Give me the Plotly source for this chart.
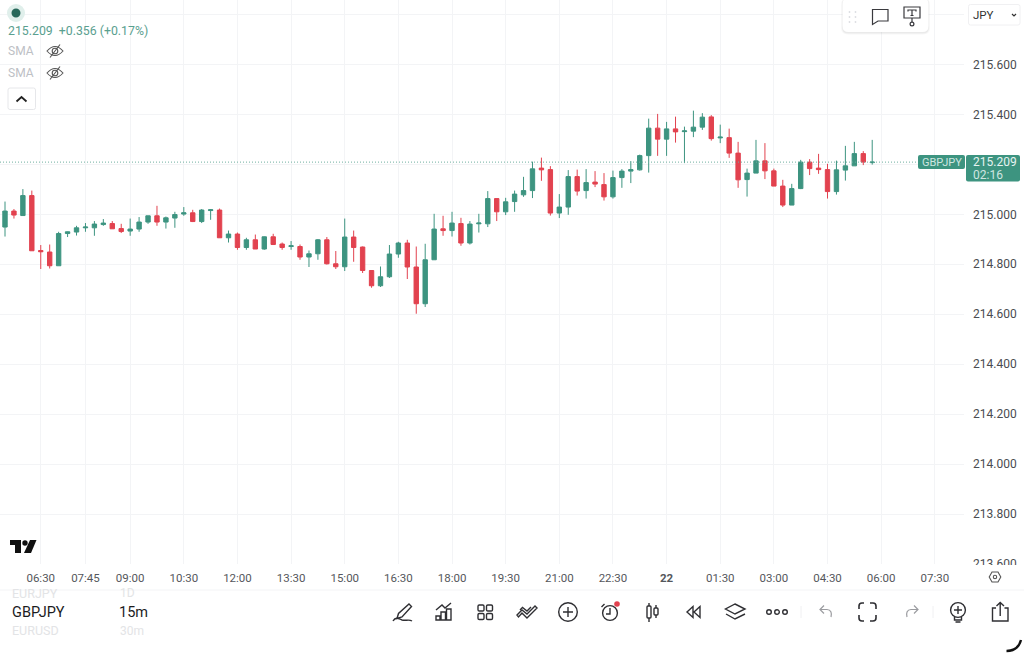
import pandas as pd
import plotly.graph_objects as go

# 15m candles
open_px = [214.949, 215.013, 214.995, 215.075, 214.855, 214.849, 214.794, 214.923, 214.929, 214.946,
           214.946, 214.959, 214.963, 214.943, 214.933, 214.941, 214.969, 214.994, 214.969, 214.985,
           215.001, 215.006, 214.971, 215.015, 215.017, 214.906, 214.921, 214.867, 214.898, 214.861,
           214.910, 214.881, 214.871, 214.871, 214.829, 214.842, 214.898, 214.802, 214.790, 214.909,
           214.869, 214.775, 214.714, 214.750, 214.841, 214.885, 214.789, 214.642, 214.818, 214.942,
           214.935, 214.963, 214.885, 214.962, 214.962, 215.063, 215.010, 215.051, 215.078, 215.095,
           215.185, 215.179, 215.005, 215.029, 215.151, 215.095, 215.129, 215.119, 215.070, 215.147,
           215.173, 215.178, 215.235, 215.345, 215.301, 215.342, 215.331, 215.333, 215.349, 215.390,
           215.306, 215.307, 215.245, 215.139, 215.165, 215.214, 215.174, 215.113, 215.037, 215.103,
           215.209, 215.185, 215.179, 215.091, 215.177, 215.194, 215.243, 215.207]
high_px = [215.051, 215.021, 215.101, 215.095, 214.877, 214.879, 214.930, 214.931, 214.954, 214.965,
           214.973, 214.981, 214.973, 214.962, 214.983, 214.989, 214.994, 215.034, 214.991, 215.010,
           215.029, 215.018, 215.021, 215.021, 215.023, 214.935, 214.927, 214.906, 214.919, 214.911,
           214.922, 214.887, 214.893, 214.879, 214.855, 214.901, 214.909, 214.853, 214.983, 214.935,
           214.871, 214.775, 214.791, 214.877, 214.890, 214.898, 214.871, 214.882, 215.002, 214.994,
           215.010, 214.986, 214.973, 215.002, 215.093, 215.063, 215.066, 215.095, 215.150, 215.211,
           215.227, 215.193, 215.081, 215.177, 215.179, 215.181, 215.173, 215.165, 215.175, 215.181,
           215.213, 215.239, 215.383, 215.402, 215.370, 215.391, 215.351, 215.415, 215.405, 215.397,
           215.359, 215.343, 215.290, 215.183, 215.298, 215.285, 215.183, 215.138, 215.122, 215.218,
           215.221, 215.242, 215.202, 215.215, 215.274, 215.290, 215.253, 215.298]
low_px = [214.911, 214.983, 214.994, 214.854, 214.781, 214.783, 214.794, 214.909, 214.915, 214.930,
          214.914, 214.954, 214.942, 214.925, 214.914, 214.930, 214.962, 214.954, 214.943, 214.946,
          214.994, 214.969, 214.965, 214.978, 214.906, 214.887, 214.858, 214.858, 214.861, 214.858,
          214.877, 214.858, 214.858, 214.818, 214.789, 214.818, 214.799, 214.781, 214.773, 214.810,
          214.765, 214.706, 214.709, 214.745, 214.826, 214.741, 214.602, 214.629, 214.818, 214.914,
          214.911, 214.874, 214.879, 214.927, 214.949, 214.973, 214.997, 215.010, 215.070, 215.065,
          215.134, 214.995, 214.985, 214.998, 215.075, 215.063, 215.109, 215.055, 215.063, 215.106,
          215.125, 215.175, 215.167, 215.234, 215.234, 215.287, 215.205, 215.309, 215.338, 215.295,
          215.285, 215.226, 215.106, 215.071, 215.165, 215.141, 215.113, 215.029, 215.037, 215.101,
          215.157, 215.162, 215.063, 215.079, 215.135, 215.194, 215.197, 215.199]
close_px = [215.013, 214.997, 215.075, 214.854, 214.850, 214.794, 214.923, 214.930, 214.946, 214.949,
            214.961, 214.965, 214.942, 214.931, 214.941, 214.969, 214.994, 214.969, 214.986, 214.999,
            215.006, 214.971, 215.017, 215.018, 214.906, 214.921, 214.867, 214.898, 214.861, 214.910,
            214.879, 214.867, 214.874, 214.829, 214.842, 214.898, 214.802, 214.790, 214.909, 214.867,
            214.775, 214.714, 214.750, 214.841, 214.885, 214.789, 214.642, 214.818, 214.941, 214.935,
            214.965, 214.885, 214.961, 214.965, 215.063, 215.010, 215.050, 215.081, 215.095, 215.182,
            215.178, 215.005, 215.029, 215.151, 215.093, 215.127, 215.121, 215.070, 215.147, 215.173,
            215.179, 215.235, 215.345, 215.301, 215.342, 215.330, 215.334, 215.349, 215.389, 215.303,
            215.309, 215.245, 215.138, 215.165, 215.214, 215.174, 215.113, 215.037, 215.103, 215.209,
            215.183, 215.179, 215.091, 215.178, 215.194, 215.243, 215.209, 215.209]
bar_times = pd.date_range("2025-01-21 05:30", periods=len(open_px), freq="15min")

last_price = 215.209
# 215.200 sits behind the last price tag and 215.800 behind the currency button
price_ticks = [213.6, 213.8, 214.0, 214.2, 214.4, 214.6, 214.8, 215.0, 215.2, 215.4, 215.6, 215.8]
price_labels = ["213.600", "213.800", "214.000", "214.200", "214.400", "214.600",
                "214.800", "215.000", "", "215.400", "215.600", ""]
time_ticks = ["2025-01-21 06:30", "2025-01-21 07:45", "2025-01-21 09:00", "2025-01-21 10:30",
              "2025-01-21 12:00", "2025-01-21 13:30", "2025-01-21 15:00", "2025-01-21 16:30",
              "2025-01-21 18:00", "2025-01-21 19:30", "2025-01-21 21:00", "2025-01-21 22:30",
              "2025-01-22 00:00", "2025-01-22 01:30", "2025-01-22 03:00", "2025-01-22 04:30",
              "2025-01-22 06:00", "2025-01-22 07:30"]
time_labels = ["06:30", "07:45", "09:00", "10:30", "12:00", "13:30", "15:00", "16:30", "18:00",
               "19:30", "21:00", "22:30", "<b>22</b>", "01:30", "03:00", "04:30", "06:00", "07:30"]

FONT = "Roboto"
GREEN = "#3d9480"
RED = "#e2424f"
GRID = "#f3f4f6"
INK = "#2f2f33"

fig = go.Figure()
fig.add_trace(go.Candlestick(x=bar_times, open=open_px, high=high_px, low=low_px, close=close_px,
                             increasing=dict(line=dict(color=GREEN, width=1), fillcolor=GREEN),
                             decreasing=dict(line=dict(color=RED, width=1), fillcolor=RED),
                             whiskerwidth=0, hoverinfo="skip", showlegend=False))
# empty trace so the pixel overlay axes exist, the ui furniture is drawn on them
fig.add_trace(go.Scatter(x=[], y=[], xaxis="x2", yaxis="y2", showlegend=False, hoverinfo="skip"))


def line(path, color=INK, width=1.4, fill=None):
    fig.add_shape(type="path", path=path, xref="x2", yref="y2", layer="above",
                  line=dict(color=color, width=width), fillcolor=fill)


def circle(cx, cy, r, color=INK, width=1.4, fill=None):
    fig.add_shape(type="circle", x0=cx - r, x1=cx + r, y0=cy - r, y1=cy + r, xref="x2", yref="y2",
                  layer="above", line=dict(color=color, width=width), fillcolor=fill)


def rrect(x0, y0, x1, y1, r):
    return (f"M{x0 + r} {y0} L{x1 - r} {y0} Q{x1} {y0} {x1} {y0 + r} L{x1} {y1 - r} Q{x1} {y1} {x1 - r} {y1} "
            f"L{x0 + r} {y1} Q{x0} {y1} {x0} {y1 - r} L{x0} {y0 + r} Q{x0} {y0} {x0 + r} {y0} Z")


def label(x, y, text, color=INK, size=12, anchor="left"):
    # annotations sit a little inside their box, pull left aligned ones back
    fig.add_annotation(x=x, y=y, text=text, xref="x2", yref="y2", showarrow=False, xanchor=anchor,
                       xshift=-1.5 if anchor == "left" else 0, yanchor="middle",
                       font=dict(family=FONT, size=size, color=color), borderpad=0)


def crossed_eye(cx, cy):
    line(f"M{cx - 8} {cy} Q{cx} {cy - 9} {cx + 8} {cy} Q{cx} {cy + 9} {cx - 8} {cy} Z", "#555555", 1.1)
    circle(cx, cy, 2.8, "#555555", 1.1)
    line(f"M{cx - 5} {cy + 6.5} L{cx + 5} {cy - 6.5}", "#555555", 1.1)


# clip the lowest price label and hide everything under the time axis on the right
fig.add_shape(type="rect", x0=964, x1=1024, y0=565, y1=590, xref="x2", yref="y2", layer="above",
              line=dict(width=0), fillcolor="white")
fig.add_shape(type="line", x0=0, x1=1024, y0=590, y1=590, xref="x2", yref="y2", layer="above",
              line=dict(color=GRID, width=1))

# last price line and tags
fig.add_shape(type="line", x0=0, x1=918, y0=last_price, y1=last_price, xref="x2", yref="y", layer="above",
              line=dict(color="#6fb0a0", width=1, dash="1px,2px"))
line(rrect(918, 155, 965, 169, 2), GREEN, 0, GREEN)
line(rrect(966, 155, 1020, 181.5, 2), GREEN, 0, GREEN)
label(941.5, 162, "GBPJPY", "#cfe6e0", 11, "center")
label(973, 161.5, "215.209", "#e6f3f0", 12)
label(973, 175, "02:16", "#cfe6e0", 12)

# top left legend
circle(16, 13, 9, "#e0efeb", 0, "#e0efeb")
circle(16, 13, 4.5, "#27685a", 0, "#27685a")
label(8, 31, "215.209&nbsp;&nbsp;+0.356 (+0.17%)", "#5aa08f", 12.3)
label(8, 51, "SMA", "#bdc0c5", 12)
label(8, 73, "SMA", "#bdc0c5", 12)
crossed_eye(55, 51)
crossed_eye(55, 73)
line(rrect(8, 88, 35.5, 109.5, 2), "#e6e7ea", 1, "white")
line("M16.5 101.5 L21.5 97 L26.5 101.5", "#222222", 1.8)

# floating drawing bar
line(rrect(841, -2, 930, 34.5, 7), "rgba(0,0,0,0)", 0, "rgba(0,0,0,0.03)")
line(rrect(842, -2, 929, 33.5, 6), "rgba(0,0,0,0)", 0, "rgba(0,0,0,0.05)")
line(rrect(842.5, -2, 928.5, 32, 6), "rgba(0,0,0,0)", 0, "white")
for dot_x in (849.5, 855.5):
    for dot_y in (12, 17, 22):
        circle(dot_x, dot_y, 0.9, "#dcdee2", 0, "#dcdee2")
line("M872.5 9.5 L888 9.5 L888 21 L878 21 L872.5 24.5 Z", "#3a3a3e", 1.2)
line("M904 7 L920 7 L920 18 L904 18 Z", "#3a3a3e", 1.2)
line("M908 11.5 L908 10 L916 10 L916 11.5 M912 10 L912 15.5 M910.5 15.5 L913.5 15.5", "#3a3a3e", 1.2)
line("M912 18 L912 22", "#3a3a3e", 1.2)
circle(912, 24, 1.9, "#3a3a3e", 1.2)

# currency button
line(rrect(968.5, 4.5, 1020, 25, 2), "#f0f0f2", 1, "white")
label(973, 15, "JPY", "#333333", 11.5)
line("M1012 14 L1014 16 L1016 14", "#333333", 1.2)

# logo
line("M10 540 L21 540 L21 553 L15 553 L15 545 L10 545 Z", "#111111", 0, "#111111")
circle(25, 543, 2.7, "#111111", 0, "#111111")
line("M30 540 L36.5 540 L31 553 L24 553 Z", "#111111", 0, "#111111")

# symbol picker
label(12, 593, "EURJPY", "#e3e4e6", 12.5)
label(120, 593, "1D", "#e3e4e6", 12)
label(12, 612, "GBPJPY", "#1c1c1e", 14.5)
label(119, 612, "15m", "#1c1c1e", 14.5)
label(12, 630.5, "EURUSD", "#e3e4e6", 12.5)
label(120, 630.5, "30m", "#e3e4e6", 12)

# bottom toolbar
line("M409 604 L411.5 606.5 L402 617 L397 618.5 L398.5 613.5 Z")
line("M393 621 C396 616 399 619 402 620 C406 621 409 619 412 621")
line("M436 610 L442 605 L445 608 L451 603")
line("M436 616 L440 616 L440 620 L436 620 Z M441 612 L445.5 612 L445.5 620 L441 620 Z M446.5 609 L451 609 L451 620 L446.5 620 Z")
for grid_x in (478, 486.5):
    for grid_y in (605, 613.5):
        line(rrect(grid_x, grid_y, grid_x + 6, grid_y + 6, 1.3))
line("M517 615 L522 610 L527 614 L535 606 L537 608 L527 618 L522 613 L518.5 617 Z")
line("M520 610 L522.5 607.5 L527 611 L531 607")
circle(568, 612, 9.3)
line("M563 612 L573 612 M568 607 L568 617")
circle(610, 613, 7.4)
line("M610 608 L610 614 L606 614 M601.5 607 L604.5 604")
circle(617, 604, 2.8, RED, 0, RED)
line("M649 603 L649 606 M649 618 L649 622 M656 605 L656 608 M656 615 L656 618")
line(rrect(647, 606, 651, 618, 1))
line(rrect(654, 608, 658, 615, 1))
line("M693 606.5 L687 612 L693 617.5 Z M700 606.5 L694 612 L700 617.5 Z")
line("M735 604 L745 609 L735 614 L725.5 609 Z M726 614 L735 619 L745 614")
for dot_x in (769, 777, 785):
    circle(dot_x, 612, 2.3)
line("M801 606 L801 618", "#f0f0f2", 1)
line("M933 606 L933 618", "#f0f0f2", 1)
line("M824 605.5 L820 609.5 L824 613.5 M820 609.5 L827 609.5 C831 609.5 832 613 831 617", "#9b9ca0", 1.2)
line("M914 605.5 L918 609.5 L914 613.5 M918 609.5 L911 609.5 C907 609.5 906 613 907 617", "#9b9ca0", 1.2)
line("M859 609 L859 606 Q859 603 862 603 L864 603 M870 603 L873 603 Q876 603 876 606 L876 609 "
     "M876 615 L876 618 Q876 621 873 621 L870 621 M864 621 L862 621 Q859 621 859 618 L859 615", INK, 1.6)
circle(958, 610, 7.4)
line("M954 610 L962 610 M958 606 L958 614 M954.5 617 L954.5 620 L961.5 620 L961.5 617 M955.5 622 L960.5 622")
line("M996 608 L992.5 608 L992.5 621 L1008 621 L1008 608 L1004.5 608 M1000.2 616 L1000.2 602.5 M996.5 606 L1000.2 602.5 L1004 606")
line("M1006.5 651 Q1018 651 1021 640", "#111111", 2.4)
line("M989.2 577 L992 572 L998 572 L1000.8 577 L998 582 L992 582 Z", "#555555", 1.1)
circle(995, 577, 1.7, "#555555", 1.1)

fig.update_layout(
    width=1024, height=656, margin=dict(l=0, r=0, t=0, b=0),
    paper_bgcolor="white", plot_bgcolor="rgba(0,0,0,0)",
    hovermode=False, dragmode=False, showlegend=False, boxgap=0.3,
    font=dict(family=FONT, color="#55575c"),
    xaxis=dict(domain=[0, 964 / 1024], range=["2025-01-21 05:21:37", "2025-01-22 08:19:00"], anchor="y",
               automargin=False, rangeslider=dict(visible=False),
               tickmode="array", tickvals=time_ticks, ticktext=time_labels,
               showgrid=True, gridcolor=GRID, gridwidth=1, zeroline=False, showline=False, ticks="",
               ticklabelstandoff=5, tickangle=0, tickfont=dict(family=FONT, size=11.5, color="#55575c")),
    yaxis=dict(domain=[92 / 656, 1], range=[213.6, 215.858], anchor="x", side="right", automargin=False,
               tickmode="array", tickvals=price_ticks, ticktext=price_labels,
               showgrid=True, gridcolor=GRID, gridwidth=1, zeroline=False, showline=False, ticks="",
               ticklabelstandoff=8, tickfont=dict(family=FONT, size=12, color="#4a4c50")),
    xaxis2=dict(domain=[0, 1], range=[0, 1024], anchor="y2", visible=False, fixedrange=True, automargin=False),
    yaxis2=dict(domain=[0, 1], range=[656, 0], anchor="x2", visible=False, fixedrange=True, automargin=False),
)

fig.write_html("out.html", config=dict(displayModeBar=False),
               post_script="document.body.style.margin='0';")
